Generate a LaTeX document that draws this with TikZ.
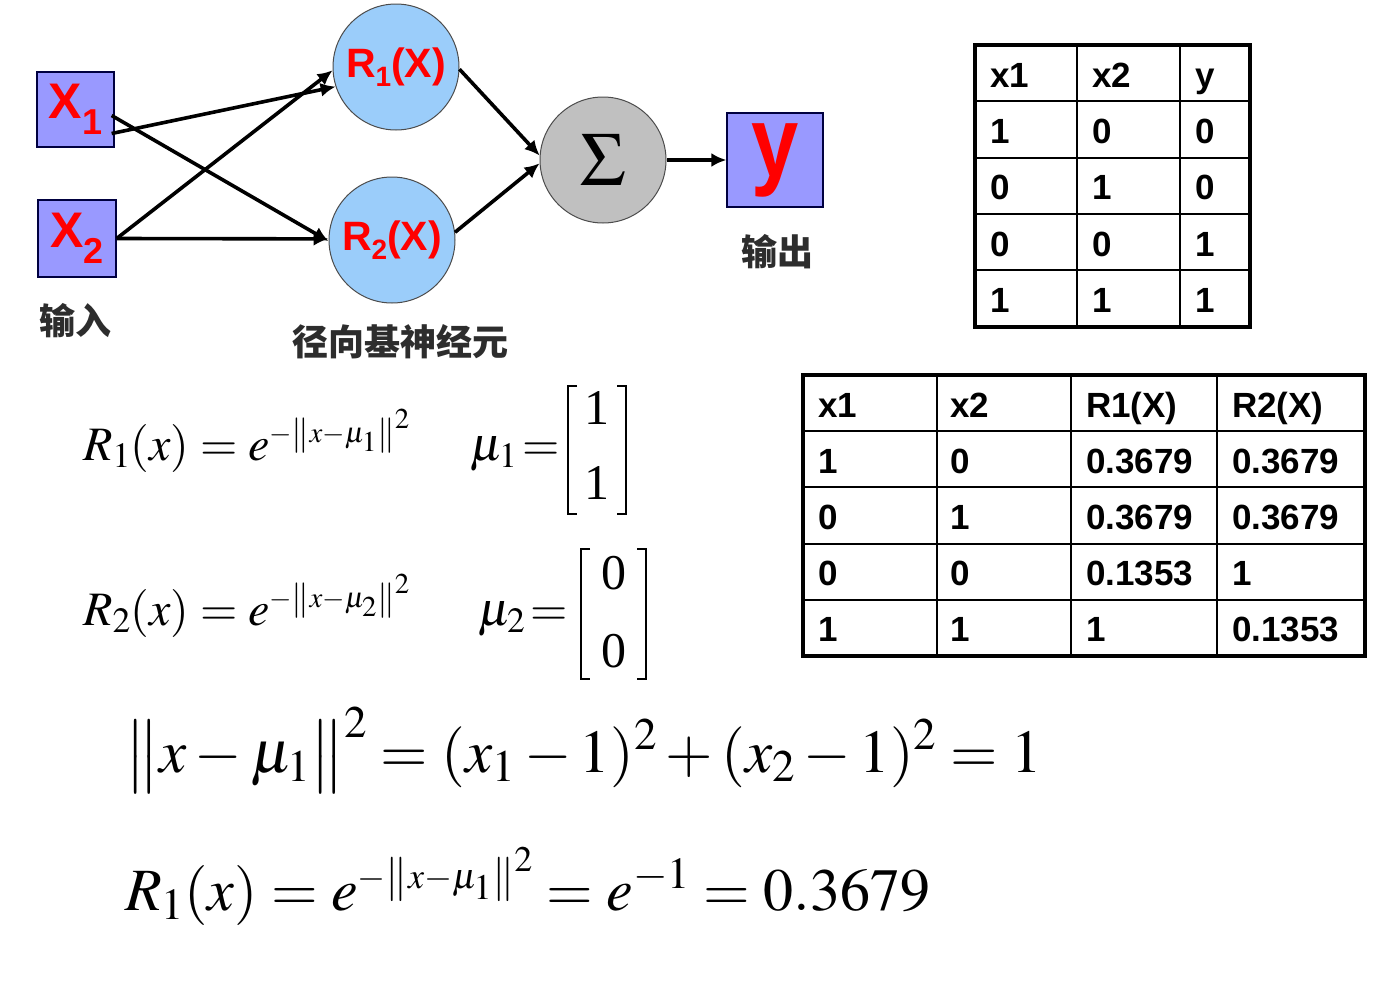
\documentclass[tikz,border=0pt]{standalone}
\usepackage{amsmath}
\usepackage{mathptmx}
\usepackage[no-math]{fontspec}
\setmainfont{Liberation Serif}
\newfontfamily\arialf{Liberation Sans}
\newfontfamily\cjk{Noto Sans CJK SC}
\usetikzlibrary{arrows.meta,calc}
\definecolor{boxblue}{RGB}{153,153,255}
\definecolor{cirblue}{RGB}{155,205,250}
\definecolor{sigray}{RGB}{192,192,192}
\definecolor{labgray}{RGB}{45,45,45}
\begin{document}
\begin{tikzpicture}[x=1pt,y=-1pt,
  inbox/.style={draw=black!75!blue, line width=1.3pt, fill=boxblue, inner sep=0pt},
  neuron/.style={circle, draw=black!70, line width=1pt, fill=cirblue, minimum size=126pt, inner sep=0pt},
  arr/.style={line width=3.6pt, -{Latex[length=15pt,width=14pt]}},
  redtxt/.style={text=red, font=\arialf\bfseries},
  cjklab/.style={text=labgray, font=\cjk\bfseries\fontsize{36}{36}\selectfont, inner sep=0pt},
  tabtxt/.style={anchor=base west, inner sep=0pt, font=\arialf\bfseries\fontsize{35}{35}\selectfont},
  formula/.style={anchor=base west, inner sep=0pt},
  mentry/.style={anchor=base, inner sep=0pt, font=\fontsize{50}{50}\selectfont},
  brack/.style={line width=2.4pt, line cap=butt, line join=miter}
]
\useasboundingbox (0,0) rectangle (1384,1004);
\fill[white] (0,0) rectangle (1384,1004);

% input boxes
\node[inbox, minimum width=77pt, minimum height=75pt, redtxt] (x1) at (75.5,109.5)
  {\raisebox{-4pt}{\fontsize{50}{50}\selectfont X\raisebox{-16pt}{\fontsize{36}{36}\selectfont 1}}};
\node[inbox, minimum width=78pt, minimum height=77pt, redtxt] (x2) at (77,238.5)
  {\raisebox{-4pt}{\fontsize{50}{50}\selectfont X\raisebox{-16pt}{\fontsize{36}{36}\selectfont 2}}};

% RBF neurons
\node[neuron, redtxt] (r1) at (396,67)
  {\fontsize{41}{41}\selectfont R\raisebox{-9pt}{\fontsize{28}{28}\selectfont 1}(X)};
\node[neuron, redtxt] (r2) at (392,240)
  {\fontsize{41}{41}\selectfont R\raisebox{-9pt}{\fontsize{28}{28}\selectfont 2}(X)};

% sum neuron
\node[circle, draw=black!70, line width=1pt, fill=sigray, minimum size=126pt, inner sep=0pt] (sig) at (603,160)
  {\fontsize{76}{76}\selectfont$\Sigma$};

% output box
\node[inbox, minimum width=96pt, minimum height=94pt, redtxt] (yb) at (775,160)
  {\raisebox{-13pt}{\fontsize{100}{100}\selectfont\scalebox{0.85}[1]{y}}};

% labels
\node[cjklab] (lin) at (75,321) {输入};
\node[cjklab] (lrbf) at (400,342) {径向基神经元};
\node[cjklab] (lout) at (777,252) {输出};

% connectors
\coordinate (x1a) at ($(x1.east)+(-3,24)$);
\coordinate (x1b) at ($(x1.east)+(-3,6)$);
\draw[arr] (x1a) -- (r1.198);
\draw[arr] (x1b) -- (r2.181);
\draw[arr] (x2.east) -- (r1.183);
\draw[arr] (x2.east) -- (r2.179);
\draw[arr] (r1.358) -- (sig.176);
\draw[arr] (r2.7) -- (sig.183);
\draw[arr] (sig.east) -- (yb.west);

% table 1
\draw[line width=2pt] (1077,45) -- (1077,327) (1180,45) -- (1180,327);
\foreach \yy in {101,158,214,270} \draw[line width=2pt] (975,\yy) -- (1250,\yy);
\draw[line width=3.5pt] (975,45) rectangle (1250,327);
\foreach \a/\b/\c [count=\i from 0] in {x1/x2/y,1/0/0,0/1/0,0/0/1,1/1/1}{
  \pgfmathsetmacro{\bl}{45+56.4*\i+42}
  \node[tabtxt] (ta\i) at (990,\bl) {\a};
  \node[tabtxt] (tb\i) at (1092,\bl) {\b};
  \node[tabtxt] (tc\i) at (1195,\bl) {\c};
}

% table 2
\draw[line width=2pt] (937,375) -- (937,656) (1071,375) -- (1071,656) (1217,375) -- (1217,656);
\foreach \yy in {431,487,544,600} \draw[line width=2pt] (803,\yy) -- (1365,\yy);
\draw[line width=3.5pt] (803,375) rectangle (1365,656);
\foreach \a/\b/\c/\d [count=\i from 0] in {x1/x2/R1(X)/R2(X),1/0/0.3679/0.3679,0/1/0.3679/0.3679,0/0/0.1353/1,1/1/1/0.1353}{
  \pgfmathsetmacro{\bl}{375+56.2*\i+42}
  \node[tabtxt] (sa\i) at (818,\bl) {\a};
  \node[tabtxt] (sb\i) at (950,\bl) {\b};
  \node[tabtxt] (sc\i) at (1086,\bl) {\c};
  \node[tabtxt] (sd\i) at (1232,\bl) {\d};
}

% formulas
\node[formula, font=\fontsize{48}{58}\selectfont] (f1) at (83,460)
  {$R_1(x) = e^{\scriptscriptstyle -\left\|x-\mu_1\right\|^2}$};
\node[formula, font=\fontsize{48}{58}\selectfont] (m1) at (470,460)
  {$\mu_1\,{=}$};
\draw[brack] (577,386) -- (568,386) -- (568,514) -- (577,514);
\draw[brack] (617,386) -- (626,386) -- (626,514) -- (617,514);
\node[mentry] (m1a) at (597,424) {1};
\node[mentry] (m1b) at (597,499) {1};

\node[formula, font=\fontsize{48}{58}\selectfont] (f2) at (83,625)
  {$R_2(x) = e^{\scriptscriptstyle -\left\|x-\mu_2\right\|^2}$};
\node[formula, font=\fontsize{48}{58}\selectfont] (m2) at (478,625)
  {$\mu_2\,{=}$};
\draw[brack] (590,549) -- (581,549) -- (581,679) -- (590,679);
\draw[brack] (637,549) -- (646,549) -- (646,679) -- (637,679);
\node[mentry] (m2a) at (614,589) {0};
\node[mentry] (m2b) at (614,667) {0};

\node[formula, font=\fontsize{61}{73}\selectfont] (f3) at (125,772)
  {$\big\|x-\mu_1\big\|^2 = (x_1-1)^2+(x_2-1)^2 = 1$};
\node[formula, font=\fontsize{60}{72}\selectfont] (f4) at (125,910)
  {$R_1(x) = e^{\scriptscriptstyle -\left\|x-\mu_1\right\|^2} = e^{-1} = 0.3679$};
\end{tikzpicture}
\end{document}
